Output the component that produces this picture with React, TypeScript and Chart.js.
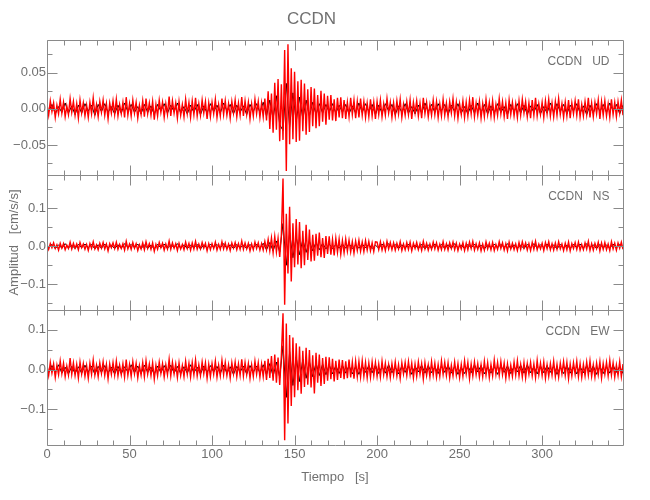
import { useEffect, useRef } from "react";
import { Chart, registerables } from "chart.js";

Chart.register(...registerables);

// ---------- text ----------
const STATION = "CCDN";
const COMPONENTS = ["UD", "NS", "EW"];
const X_TITLE = "Tiempo   [s]";
const Y_TITLE = "Amplitud   [cm/s/s]";

// ---------- time axis ----------
const T_MAX = 349;
const RED_STEP_S = 1;
const BLACK_START_S = 1;
const BLACK_STEP_S = 2;
const X_MAJOR_TICKS = [0, 50, 100, 150, 200, 250, 300];
const X_TICK_LABELS = ["0", "50", "100", "150", "200", "250", "300"];
const X_MINOR_TICKS = [10, 20, 30, 40, 60, 70, 80, 90, 110, 120, 130, 140, 160, 170, 180, 190, 210, 220, 230, 240, 260, 270, 280, 290, 310, 320, 330, 340];

// ---------- amplitude axes (cm/s/s) ----------
const UD_RANGE = [-0.0915, 0.095];
const NS_RANGE = [-0.168, 0.188];
const EW_RANGE = [-0.19, 0.15];
const UD_MAJOR = [-0.05, 0, 0.05];
const UD_LABELS = ["\u22120.05", "0.00", "0.05"];
const UD_MINOR = [-0.075, -0.025, 0.025, 0.075];
const NS_MAJOR = [-0.1, 0, 0.1];
const NS_LABELS = ["\u22120.1", "0.0", "0.1"];
const NS_MINOR = [-0.15, -0.05, 0.05, 0.15];
const EW_MAJOR = [-0.1, 0, 0.1];
const EW_LABELS = ["\u22120.1", "0.0", "0.1"];
const EW_MINOR = [-0.15, -0.05, 0.05];

// ---------- traces, values in 0.001 cm/s/s ----------
const MILLI = 0.001;

// red trace, one value per second (t = 0 .. 349 s)
const UD_RED = [
  6, -9, 11, -4, 8, -12, 5, -7, 13, -6,
  9, -11, 4, -8, 14, -5, 10, -9, 7, -13,
  12, -6, 8, -10, 5, -12, 9, -7, 15, -8,
  6, -11, 10, -5, 12, -9, 7, -14, 8, -6,
  11, -8, 13, -10, 6, -7, 9, -12, 16, -9,
  7, -10, 12, -6, 9, -13, 5, -8, 11, -11,
  14, -7, 8, -9, 10, -15, 6, -10, 12, -5,
  9, -12, 7, -8, 17, -10, 11, -6, 8, -13,
  10, -9, 6, -11, 13, -7, 9, -12, 11, -8,
  15, -10, 7, -9, 12, -6, 10, -14, 8, -11,
  9, -7, 13, -12, 6, -10, 14, -8, 11, -9,
  7, -13, 10, -6, 12, -11, 8, -9, 16, -10,
  11, -8, 9, -14, 7, -10, 13, -7, 10, -12,
  8, -11, 14, -16, 24, -28, 21, -33, 36, -29,
  41, -45, 34, -43, 81, -86, 89, -49, 56, -42,
  51, -46, 38, -44, 40, -31, 35, -36, 27, -32,
  30, -24, 28, -27, 19, -24, 25, -18, 21, -22,
  18, -15, 19, -16, 13, -17, 15, -12, 16, -13,
  12, -14, 9, -11, 15, -8, 12, -13, 10, -12,
  14, -9, 10, -12, 8, -11, 13, -10, 9, -14,
  10, -8, 12, -11, 7, -9, 14, -6, 9, -12,
  8, -10, 11, -7, 13, -12, 6, -9, 10, -8,
  12, -14, 9, -6, 11, -10, 8, -13, 15, -7,
  9, -11, 6, -9, 12, -8, 10, -12, 7, -10,
  13, -9, 8, -11, 10, -6, 14, -10, 9, -13,
  7, -8, 11, -12, 9, -10, 12, -7, 16, -11,
  8, -9, 10, -13, 7, -11, 13, -8, 9, -10,
  11, -12, 6, -9, 14, -7, 10, -11, 8, -14,
  12, -8, 9, -10, 7, -12, 11, -9, 13, -6,
  10, -11, 8, -13, 12, -9, 15, -10, 7, -8,
  9, -12, 11, -7, 13, -10, 8, -11, 10, -9,
  14, -8, 7, -12, 9, -10, 12, -13, 8, -7,
  11, -9, 13, -11, 6, -10, 10, -8, 15, -12,
  8, -11, 9, -7, 12, -14, 10, -9, 11, -10,
  7, -12, 13, -8, 9, -11, 10, -6, 12, -9,
];
const NS_RED = [
  5, -8, 7, -4, 9, -6, 4, -10, 8, -5,
  7, -9, 3, -6, 11, -7, 8, -5, 6, -9,
  10, -4, 6, -8, 5, -11, 7, -6, 12, -7,
  4, -9, 8, -5, 10, -7, 6, -12, 7, -4,
  9, -6, 11, -8, 5, -6, 7, -10, 13, -7,
  6, -8, 10, -5, 7, -11, 4, -7, 9, -9,
  12, -6, 7, -8, 9, -13, 5, -8, 10, -4,
  8, -10, 6, -7, 14, -8, 9, -5, 7, -11,
  8, -7, 5, -9, 11, -6, 8, -10, 9, -7,
  13, -8, 6, -7, 10, -5, 8, -12, 7, -9,
  7, -6, 11, -10, 5, -8, 12, -7, 9, -8,
  6, -11, 9, -5, 10, -9, 7, -8, 14, -8,
  9, -7, 8, -12, 6, -9, 11, -6, 9, -10,
  7, -10, 13, -9, 18, -12, 22, -17, 26, -15,
  21, -28, 30, 179, -154, 86, -72, 104, -93, 61,
  -55, 72, -48, 64, -58, 41, -50, 57, -36, 44,
  -40, 30, -38, 33, -25, 36, -29, 22, -31, 27,
  -20, 26, -22, 18, -24, 21, -16, 19, -21, 15,
  -17, 19, -13, 16, -15, 12, -18, 14, -11, 16,
  -13, 11, -14, 15, -10, 13, -12, 9, -14, 12,
  11, -9, 12, -10, 8, -11, 13, -7, 10, -9,
  9, -10, 8, -7, 12, -11, 6, -9, 10, -8,
  11, -12, 8, -6, 10, -9, 7, -11, 13, -7,
  8, -10, 6, -8, 11, -7, 9, -10, 6, -9,
  12, -8, 7, -10, 9, -6, 11, -9, 8, -11,
  6, -7, 10, -11, 8, -9, 11, -6, 13, -10,
  7, -8, 9, -12, 6, -10, 12, -7, 8, -9,
  10, -11, 5, -8, 12, -6, 9, -10, 7, -12,
  11, -7, 8, -9, 6, -11, 10, -8, 12, -5,
  9, -10, 7, -11, 10, -8, 13, -9, 6, -7,
  8, -11, 10, -6, 12, -9, 7, -10, 9, -8,
  12, -7, 6, -11, 8, -9, 11, -12, 7, -6,
  10, -8, 11, -10, 5, -9, 9, -7, 13, -11,
  7, -10, 8, -6, 11, -12, 9, -8, 10, -9,
  6, -11, 12, -7, 8, -10, 9, -5, 11, -8,
];
const EW_RED = [
  12, -15, 18, -9, 14, -20, 11, -13, 22, -10,
  16, -18, 9, -14, 29, -12, 17, -15, 13, -21,
  19, -11, 15, -17, 10, -22, 16, -12, 24, -14,
  11, -18, 17, -10, 20, -15, 13, -23, 14, -12,
  18, -14, 21, -16, 11, -13, 15, -19, 25, -15,
  13, -17, 20, -11, 16, -21, 10, -14, 18, -18,
  22, -12, 14, -15, 17, -24, 11, -16, 19, -10,
  15, -19, 12, -13, 26, -16, 18, -11, 14, -20,
  17, -15, 10, -18, 21, -12, 16, -19, 18, -13,
  24, -16, 12, -15, 19, -11, 17, -22, 13, -18,
  15, -12, 21, -19, 11, -16, 23, -13, 18, -15,
  12, -21, 17, -11, 19, -18, 14, -15, 26, -16,
  18, -13, 15, -22, 12, -17, 21, -12, 17, -19,
  14, -18, 22, -26, 27, -21, 34, -28, 38, -33,
  30, -39, 36, 142, -178, 116, -136, 87, -92, 81,
  -70, 66, -52, 58, -61, 47, -44, 55, -38, 49,
  -45, 36, -60, 42, -33, 38, -41, 29, -36, 32,
  -28, 31, -24, 27, -30, 22, -26, 25, -21, 24,
  -24, 21, -22, 25, -20, 19, -23, 21, -18, 20,
  -19, 22, -17, 18, -21, 16, -20, 19, -15, 18,
  -17, 14, -19, 21, -13, 16, -18, 12, -20, 15,
  -14, 19, -16, 12, -22, 17, -11, 18, -15, 20,
  -13, 16, -21, 14, -17, 19, -12, 15, -24, 17,
  -15, 12, -18, 20, -14, 16, -19, 13, -17, 22,
  -12, 18, -15, 17, -21, 11, -16, 19, -14, 15,
  -20, 13, -17, 22, -11, 18, -23, 14, -16, 19,
  -13, 15, -19, 12, -18, 21, -14, 17, -20, 13,
  -16, 24, -12, 18, -15, 20, -13, 16, -22, 14,
  -18, 11, -17, 19, -14, 22, -16, 13, -19, 17,
  -21, 15, -12, 18, -16, 14, -20, 23, -13, 16,
  -15, 19, -22, 12, -17, 15, -14, 21, -18, 13,
  -19, 16, -11, 20, -15, 18, -23, 14, -16, 17,
  -12, 21, -18, 15, -20, 13, -16, 19, -14, 22,
  -17, 12, -19, 16, -13, 20, -21, 15, -12, 18,
  -16, 23, -14, 17, -19, 12, -15, 20, -18, 14,
];

// black trace, one value every 2 s (t = 1, 3, ... 349 s)
const UD_BLACK = [
  -4, 6, -7, 3, -5, 8, -6, 4, -8, 5,
  -6, 7, -3, 5, -9, 6, -4, 7, -5, 3,
  -7, 5, -6, 8, -4, 6, -5, 3, -7, 6,
  -5, 4, -8, 6, -3, 7, -6, 5, -4, 8,
  -6, 3, -7, 5, -5, 6, -8, 4, -6, 7,
  -4, 5, -6, 8, -3, 6, -7, 5, -5, 4,
  -8, 6, -4, 7, -5, 9, -10, 12, -14, 18,
  -22, -30, 35, -25, 22, -18, 16, -14, 12, -10,
  9, -8, 7, -6, 6, -5, 7, -6, 5, -5,
  6, -7, 4, -6, 8, -5, 7, -4, 6, -8,
  5, -6, 7, -3, 6, -8, 4, -5, 7, -6,
  3, -7, 5, -6, 8, -4, 6, -5, 7, -3,
  6, -8, 5, -4, 7, -6, 3, -7, 5, -6,
  8, -5, 6, -7, 4, -6, 7, -5, 3, -8,
  6, -4, 7, -6, 5, -8, 4, -5, 6, -7,
  3, -6, 8, -5, 7, -4, 6, -7, 5, -3,
  7, -6, 4, -8, 5, -6, 7, -4, 6, -5,
  8, -3, 6, -7, 5,
];
const NS_BLACK = [
  -3, 5, -6, 4, -5, 7, -4, 3, -6, 5,
  -4, 6, -3, 5, -7, 4, -5, 6, -4, 3,
  -6, 4, -5, 7, -3, 5, -4, 6, -6, 4,
  -5, 3, -7, 5, -4, 6, -5, 4, -3, 7,
  -5, 4, -6, 3, -4, 5, -7, 4, -5, 6,
  -3, 5, -4, 7, -5, 4, -6, 5, -4, 3,
  -6, 5, -4, 6, -5, 8, -9, 10, -12, 14,
  -15, 60, -50, 35, -30, 25, -22, 18, -16, 14,
  -12, 11, -9, 8, -7, 6, -6, 5, -5, 6,
  -5, 7, -6, 4, -5, 6, -4, 5, -6, 3,
  -5, 6, -4, 7, -3, 5, -6, 4, -5, 6,
  -4, 3, -6, 5, -7, 4, -5, 6, -3, 5,
  -6, 4, -5, 7, -4, 3, -6, 5, -4, 6,
  -5, 3, -7, 4, -5, 6, -4, 5, -3, 7,
  -6, 4, -5, 3, -6, 5, -4, 7, -5, 4,
  -3, 6, -5, 4, -7, 5, -4, 3, -6, 5,
  -4, 6, -5, 7, -3, 4, -6, 5, -4, 3,
  -5, 6, -4, 5, -3,
];
const EW_BLACK = [
  -8, 10, -7, 12, -9, 6, -11, 8, -10, 7,
  -9, 11, -6, 9, -12, 8, -7, 10, -9, 6,
  -11, 8, -10, 7, -6, 12, -8, 9, -10, 11,
  -7, 6, -12, 9, -8, 10, -6, 11, -9, 8,
  -10, 7, -9, 12, -8, 6, -11, 9, -7, 10,
  -6, 8, -10, 11, -9, 7, -12, 8, -6, 9,
  -11, 10, -7, 9, -8, 12, -13, 15, -17, 19,
  -20, 60, -70, 45, -40, 32, -30, 26, -22, 20,
  -18, 17, -15, 14, -13, 12, -11, 10, -10, 11,
  -9, 10, -11, 8, -12, 9, -7, 10, -8, 11,
  -10, 7, -9, 12, -8, 6, -11, 9, -7, 10,
  -12, 8, -6, 11, -9, 10, -8, 7, -10, 9,
  -7, 11, -9, 8, -12, 6, -10, 9, -8, 12,
  -6, 10, -11, 7, -9, 8, -12, 10, -7, 9,
  -10, 8, -6, 11, -9, 12, -8, 7, -11, 9,
  -8, 10, -7, 9, -12, 6, -10, 11, -9, 8,
  -11, 7, -8, 10, -6, 9, -12, 8, -10, 7,
  -9, 11, -7, 8, -10,
];

// ---------- style ----------
const FONT_FAMILY = '"Liberation Sans Narrow", "Liberation Sans", sans-serif';
const TEXT_COLOR = "#707070";
const AXIS_COLOR = "#8a8a8a";
const RED = "rgb(255,0,0)";
const BLACK = "#000000";

const PANELS = [
  { id: "yUD", name: COMPONENTS[0], red: UD_RED, black: UD_BLACK, range: UD_RANGE, major: UD_MAJOR, labels: UD_LABELS, minor: UD_MINOR },
  { id: "yNS", name: COMPONENTS[1], red: NS_RED, black: NS_BLACK, range: NS_RANGE, major: NS_MAJOR, labels: NS_LABELS, minor: NS_MINOR },
  { id: "yEW", name: COMPONENTS[2], red: EW_RED, black: EW_BLACK, range: EW_RANGE, major: EW_MAJOR, labels: EW_LABELS, minor: EW_MINOR },
];

const framePlugin = {
  id: "idlFrame",
  afterDatasetsDraw(chart: any) {
    const { ctx, chartArea, scales } = chart;
    const xs = scales.x;
    const L = Math.round(chartArea.left) + 0.5;
    const R = Math.round(chartArea.right) + 0.5;
    ctx.save();
    ctx.strokeStyle = AXIS_COLOR;
    ctx.lineWidth = 1;
    PANELS.forEach((p) => {
      const ys = scales[p.id];
      const T = Math.round(ys.top) + 0.5;
      const B = Math.round(ys.bottom) + 0.5;
      ctx.beginPath();
      ctx.rect(L, T, R - L, B - T);
      const xTick = (v: number, len: number) => {
        const px = Math.round(xs.getPixelForValue(v)) + 0.5;
        ctx.moveTo(px, T);
        ctx.lineTo(px, T + len);
        ctx.moveTo(px, B);
        ctx.lineTo(px, B - len);
      };
      const yTick = (v: number, len: number) => {
        const py = Math.round(ys.getPixelForValue(v)) + 0.5;
        ctx.moveTo(L, py);
        ctx.lineTo(L + len, py);
        ctx.moveTo(R, py);
        ctx.lineTo(R - len, py);
      };
      X_MAJOR_TICKS.forEach((v) => xTick(v, 10));
      X_MINOR_TICKS.forEach((v) => xTick(v, 5));
      p.major.forEach((v) => yTick(v, 10));
      p.minor.forEach((v) => yTick(v, 5));
      ctx.stroke();
      ctx.fillStyle = TEXT_COLOR;
      ctx.font = `12px ${FONT_FAMILY}`;
      ctx.textAlign = "right";
      ctx.textBaseline = "middle";
      ctx.fillText(`${STATION}   ${p.name}`, R - 14, ys.top + 22);
    });
    ctx.restore();
  },
};

function buildConfig(): any {
  const datasets: any[] = [];
  PANELS.forEach((p) => {
    datasets.push({
      label: `${p.name} red`,
      data: p.red.map((v, i) => ({ x: i * RED_STEP_S, y: v * MILLI })),
      borderColor: RED,
      borderWidth: 1.4,
      pointRadius: 0,
      yAxisID: p.id,
      xAxisID: "x",
      order: 0,
    });
  });
  PANELS.forEach((p) => {
    datasets.push({
      label: `${p.name} black`,
      data: p.black.map((v, i) => ({ x: BLACK_START_S + i * BLACK_STEP_S, y: v * MILLI })),
      borderColor: BLACK,
      borderWidth: 1,
      pointRadius: 0,
      yAxisID: p.id,
      xAxisID: "x",
      order: 1,
    });
  });

  const tickFont = { family: FONT_FAMILY, size: 13 };
  const yScale = (p: any, withTitle: boolean) => ({
    type: "linear",
    position: "left",
    stack: "panels",
    stackWeight: 1,
    offset: false,
    min: p.range[0],
    max: p.range[1],
    afterFit: (s: any) => {
      s.width = 47;
    },
    afterBuildTicks: (s: any) => {
      s.ticks = p.major.map((v: number) => ({ value: v }));
    },
    ticks: {
      callback: (_v: any, i: number) => p.labels[i],
      font: tickFont,
      color: TEXT_COLOR,
      padding: 1,
      autoSkip: false,
    },
    grid: { display: false, drawTicks: false },
    border: { display: false },
    title: {
      display: withTitle,
      text: Y_TITLE,
      font: { family: FONT_FAMILY, size: 13 },
      color: TEXT_COLOR,
      padding: { top: 7, bottom: 0 },
    },
  });

  return {
    type: "line",
    data: { datasets },
    plugins: [framePlugin],
    options: {
      animation: false,
      responsive: false,
      events: [],
      layout: { padding: { left: 0, right: 27, top: 0, bottom: 0 } },
      plugins: {
        legend: { display: false },
        tooltip: { enabled: false },
        title: {
          display: true,
          text: STATION,
          font: { family: FONT_FAMILY, size: 17, weight: "normal" },
          color: TEXT_COLOR,
          padding: { top: 9, bottom: 10.6 },
        },
      },
      scales: {
        x: {
          type: "linear",
          position: "bottom",
          min: 0,
          max: T_MAX,
          afterFit: (s: any) => {
            s.height = 55;
          },
          afterBuildTicks: (s: any) => {
            s.ticks = X_MAJOR_TICKS.map((v) => ({ value: v }));
          },
          ticks: {
            callback: (_v: any, i: number) => X_TICK_LABELS[i],
            font: tickFont,
            color: TEXT_COLOR,
            padding: 2,
            autoSkip: false,
            maxRotation: 0,
          },
          grid: { display: false, drawTicks: false },
          border: { display: false },
          title: {
            display: true,
            text: X_TITLE,
            font: { family: FONT_FAMILY, size: 13 },
            color: TEXT_COLOR,
            padding: { top: 0, bottom: 15 },
          },
        },
        yEW: yScale(PANELS[2], false),
        yNS: yScale(PANELS[1], true),
        yUD: yScale(PANELS[0], false),
      },
    },
  };
}

export default function App() {
  const ref = useRef<HTMLCanvasElement>(null);
  useEffect(() => {
    if (!ref.current) return;
    const chart = new Chart(ref.current, buildConfig());
    return () => chart.destroy();
  }, []);
  return (
    <div style={{ position: "absolute", left: 0, top: 0, width: 650, height: 500, background: "#ffffff" }}>
      <canvas ref={ref} width={650} height={500} style={{ display: "block" }} />
    </div>
  );
}
